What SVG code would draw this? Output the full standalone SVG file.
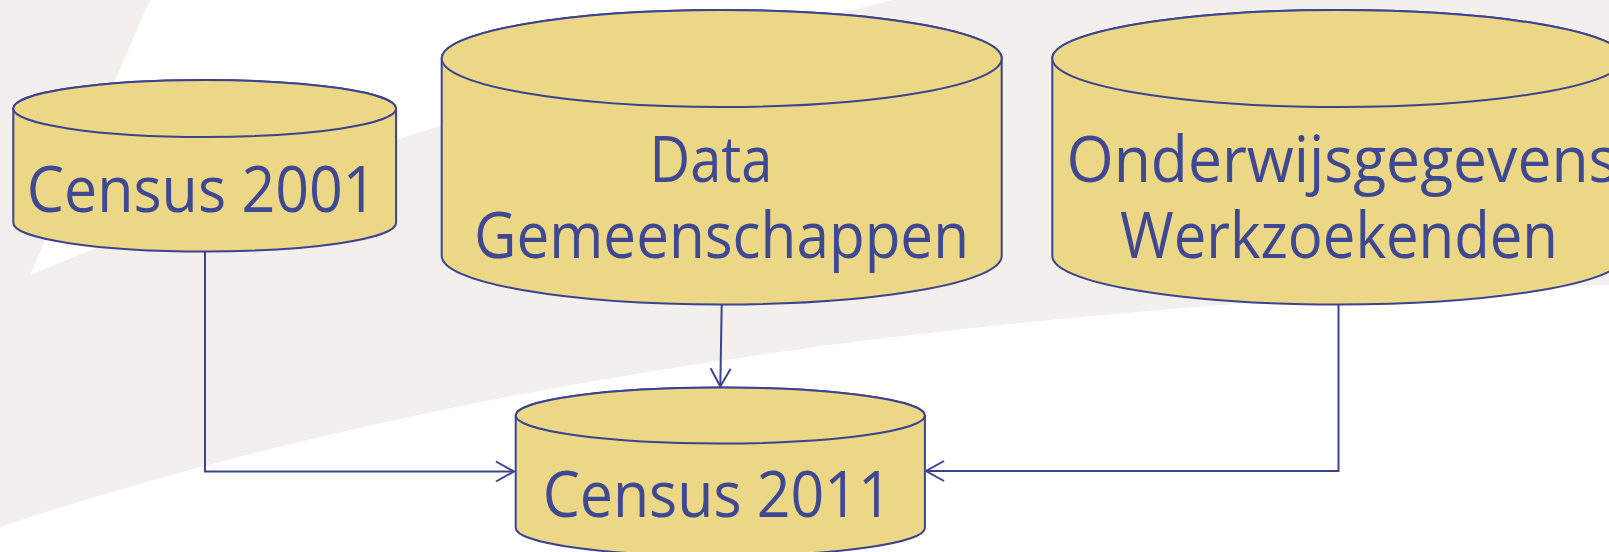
<svg xmlns="http://www.w3.org/2000/svg" width="1609" height="552" viewBox="0 0 1609 552">
<style>
.cyl{fill:#EBD785;stroke:#3C4390;stroke-width:2}
.lbl{font-family:"Open Sans","DejaVu Sans",sans-serif;font-size:64px;fill:#3F4892;text-anchor:middle}
.con{fill:none;stroke:#3C4390;stroke-width:2}
</style>
<defs>
<marker id="arr" markerUnits="userSpaceOnUse" markerWidth="24" markerHeight="24" viewBox="-20 -12 24 24" refX="0" refY="0" orient="auto" overflow="visible">
<path d="M-18,-10 L0,0 L-18,10" fill="none" stroke="#3C4390" stroke-width="2"/>
</marker>
</defs>
<g id="background">
<rect x="0" y="0" width="1609" height="552" fill="#FFFFFF"/>
<path d="M0,0 L150,0 L30,275 Q400,120 893,0 L1609,0 L1609,285 C1100,300 500,360 0,527 Z" fill="#F2EFEC"/>
</g>
<g id="connectors">
<polyline class="con" points="205,252 205,471.5 514,471.5" marker-end="url(#arr)"/>
<line class="con" x1="721.7" y1="304.5" x2="720.3" y2="386.5" marker-end="url(#arr)"/>
<polyline class="con" points="1338.5,304.5 1338.5,471 926,471" marker-end="url(#arr)"/>
</g>
<g id="census2001">
<path class="cyl" d="M13.3,108.5 L13.3,223 A191.4,28.5 0 0 0 396.1,223 L396.1,108.5 A191.4,28.5 0 0 0 13.3,108.5 Z"/>
<ellipse class="cyl" cx="204.7" cy="108.5" rx="191.4" ry="28.5"/>
<text class="lbl" x="201.7" y="211.7" textLength="350" lengthAdjust="spacingAndGlyphs">Census 2001</text>
</g>
<g id="data-gemeenschappen">
<path class="cyl" d="M441.7,58.5 L441.7,256 A280,48.5 0 0 0 1001.7,256 L1001.7,58.5 A280,48.5 0 0 0 441.7,58.5 Z"/>
<ellipse class="cyl" cx="721.7" cy="58.5" rx="280" ry="48.5"/>
<text class="lbl" x="711" y="182" textLength="123" lengthAdjust="spacingAndGlyphs">Data</text>
<text class="lbl" x="721.5" y="258.3" textLength="495" lengthAdjust="spacingAndGlyphs">Gemeenschappen</text>
</g>
<g id="onderwijs-werkzoekenden">
<path class="cyl" d="M1052.3,58.5 L1052.3,256 A286,48.5 0 0 0 1624.3,256 L1624.3,58.5 A286,48.5 0 0 0 1052.3,58.5 Z"/>
<ellipse class="cyl" cx="1338.3" cy="58.5" rx="286" ry="48.5"/>
<text class="lbl" x="1342" y="181.7" textLength="551" lengthAdjust="spacingAndGlyphs">Onderwijsgegevens</text>
<text class="lbl" x="1339" y="258.3" textLength="438" lengthAdjust="spacingAndGlyphs">Werkzoekenden</text>
</g>
<g id="census2011">
<path class="cyl" d="M515.7,415.5 L515.7,528 A204.6,28 0 0 0 924.9,528 L924.9,415.5 A204.6,28 0 0 0 515.7,415.5 Z"/>
<ellipse class="cyl" cx="720.3" cy="415.5" rx="204.6" ry="28"/>
<text class="lbl" x="717.2" y="517.3" textLength="349" lengthAdjust="spacingAndGlyphs">Census 2011</text>
</g>
</svg>
